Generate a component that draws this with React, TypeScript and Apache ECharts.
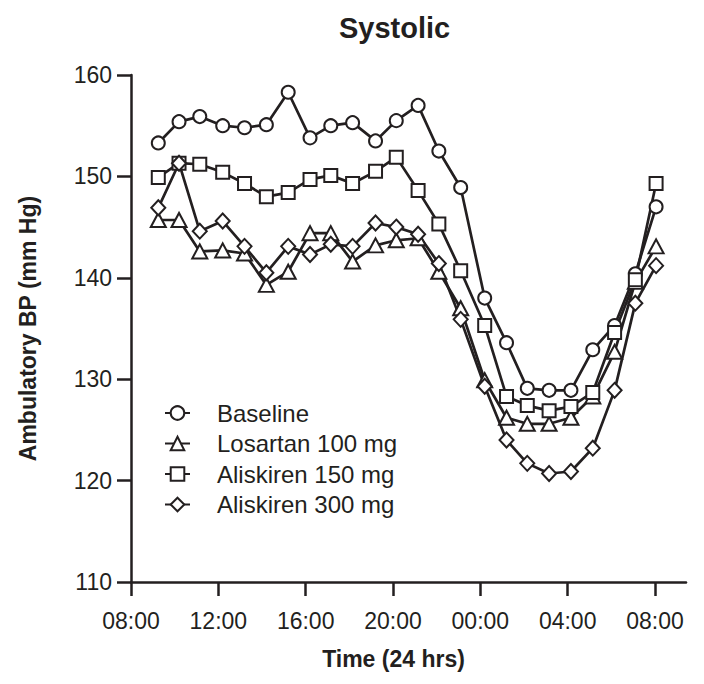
import React, { useEffect, useRef } from 'react';
import * as echarts from 'echarts';

// Time of each hourly reading, in hours from midnight of day 1 (24 = 00:00 next day)
const hours = [9.25, 10.2, 11.15, 12.2, 13.2, 14.2, 15.2, 16.2, 17.15, 18.15, 19.2, 20.15, 21.15, 22.1, 23.1, 24.2, 25.2, 26.15, 27.15, 28.15, 29.15, 30.15, 31.1, 32.05];

const baseline = [153.3, 155.4, 155.9, 155.0, 154.8, 155.1, 158.3, 153.8, 155.0, 155.3, 153.5, 155.5, 157.0, 152.5, 148.9, 138.0, 133.6, 129.1, 128.9, 128.9, 132.9, 135.3, 140.4, 147.0];
const losartan100 = [145.7, 145.7, 142.6, 142.7, 142.4, 139.3, 140.6, 144.4, 144.4, 141.6, 143.2, 143.7, 143.9, 140.6, 137.0, 129.9, 126.2, 125.6, 125.6, 126.2, 128.3, 132.7, 139.6, 143.1];
const aliskiren150 = [149.9, 151.3, 151.2, 150.4, 149.3, 148.0, 148.4, 149.7, 150.1, 149.3, 150.5, 151.9, 148.6, 145.3, 140.7, 135.3, 128.3, 127.4, 126.9, 127.3, 128.7, 134.6, 139.8, 149.3];
const aliskiren300 = [146.9, 151.3, 144.6, 145.6, 143.1, 140.5, 143.1, 142.3, 143.3, 143.1, 145.4, 145.0, 144.3, 141.4, 135.9, 129.3, 124.0, 121.7, 120.7, 120.9, 123.2, 128.9, 137.5, 141.2];

const seriesNames = ['Baseline', 'Losartan 100 mg', 'Aliskiren 150 mg', 'Aliskiren 300 mg'];
const xTickValues = [8, 12, 16, 20, 24, 28, 32];

const INK = '#231f20';
const FONT = "'Liberation Sans', Arial, Helvetica, sans-serif";

export default function App() {
  const ref = useRef<HTMLDivElement>(null);

  useEffect(() => {
    if (!ref.current) return;
    const chart = echarts.init(ref.current, null, { renderer: 'svg' });

    const mk = (name: string, values: number[], symbol: string, size: any) => ({
      name,
      type: 'line',
      data: hours.map((h, i) => [h, values[i]]),
      symbol,
      symbolSize: size,
      showSymbol: true,
      showAllSymbol: true,
      color: INK,
      lineStyle: { color: INK, width: 2.7 },
      itemStyle: { color: INK, borderColor: INK, borderWidth: 2 },
      emphasis: { disabled: true },
    });

    const fmt = (v: number) => {
      const h = Math.round(v) % 24;
      return (h < 10 ? '0' : '') + h + ':00';
    };

    chart.setOption({
      animation: false,
      backgroundColor: '#ffffff',
      title: {
        text: 'Systolic',
        left: 339,
        top: 13,
        padding: 0,
        textStyle: { fontFamily: FONT, fontWeight: 'bold', fontSize: 29, color: INK },
      },
      legend: {
        orient: 'vertical',
        left: 164,
        top: 401,
        padding: 0,
        itemWidth: 25,
        itemHeight: 17,
        itemGap: 6.5,
        data: seriesNames,
        textStyle: { fontFamily: FONT, fontSize: 24, color: INK, padding: [0, 0, 0, 22] },
      },
      grid: { left: 131, top: 75, width: 555, height: 507, containLabel: false },
      xAxis: {
        type: 'value',
        min: 8,
        max: 33.42,
        name: 'Time (24 hrs)',
        nameLocation: 'middle',
        nameGap: 65,
        nameTextStyle: { fontFamily: FONT, fontWeight: 'bold', fontSize: 23, color: INK, padding: [0, 30, 0, 0] },
        axisLine: { show: true, lineStyle: { color: INK, width: 2.5 } },
        axisTick: { show: true, length: 14, customValues: xTickValues, lineStyle: { color: INK, width: 2.5 } },
        axisLabel: { customValues: xTickValues, formatter: fmt, margin: 27, fontFamily: FONT, fontSize: 23, color: INK },
        splitLine: { show: false },
      },
      yAxis: {
        type: 'value',
        min: 110,
        max: 160,
        interval: 10,
        name: 'Ambulatory BP (mm Hg)',
        nameLocation: 'middle',
        nameGap: 92,
        nameTextStyle: { fontFamily: FONT, fontWeight: 'bold', fontSize: 23, color: INK },
        axisLine: { show: true, lineStyle: { color: INK, width: 2.5 } },
        axisTick: { show: true, length: 14, lineStyle: { color: INK, width: 2.5 } },
        axisLabel: { margin: 19, fontFamily: FONT, fontSize: 23, color: INK },
        splitLine: { show: false },
      },
      series: [
        mk(seriesNames[0], baseline, 'emptyCircle', 13),
        mk(seriesNames[1], losartan100, 'emptyTriangle', [15, 14]),
        mk(seriesNames[2], aliskiren150, 'emptyRect', 13),
        mk(seriesNames[3], aliskiren300, 'emptyDiamond', [14, 15]),
      ],
    });

    return () => chart.dispose();
  }, []);

  return (
    <div
      ref={ref}
      style={{ position: 'fixed', left: 0, top: 0, width: 704, height: 684, background: '#fff' }}
    />
  );
}
